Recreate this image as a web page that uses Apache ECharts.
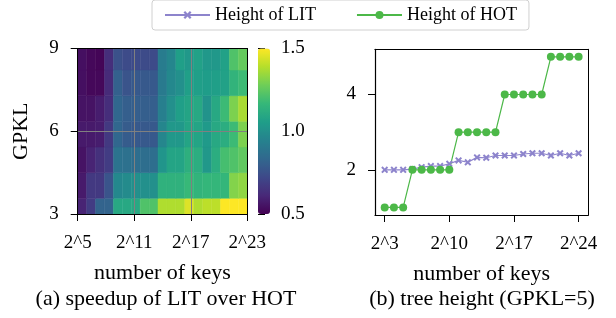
<!DOCTYPE html>
<html>
<head>
<meta charset="utf-8">
<script src="https://cdn.jsdelivr.net/npm/echarts@6/dist/echarts.min.js"></script>
<style>
  html, body { margin: 0; padding: 0; background: #fff; }
  #main { width: 616px; height: 318px; }
</style>
</head>
<body>
<div id="main"></div>
<script>
// (a) heatmap: speedup of LIT over HOT
const keyExp = [5, 6, 7, 8, 9, 10, 11, 12, 13, 14, 15, 16, 17, 18, 19, 20, 21, 22, 23];
const gpkl = [3, 4, 5, 6, 7, 8, 9];
// one row per GPKL (3 .. 9), one value per key exponent (2^5 .. 2^23)
const speedup = [
  [0.60, 0.68, 0.82, 0.82, 1.10, 1.10, 1.10, 1.22, 1.22, 1.38, 1.38, 1.38, 1.45, 1.38, 1.40, 1.40, 1.50, 1.50, 1.50],
  [0.57, 0.67, 0.67, 0.76, 0.97, 0.98, 1.00, 1.00, 1.00, 1.14, 1.14, 1.14, 1.17, 1.15, 1.16, 1.16, 1.16, 1.31, 1.33],
  [0.55, 0.60, 0.64, 0.68, 0.88, 0.87, 0.86, 0.86, 0.86, 1.02, 1.08, 1.08, 1.13, 1.12, 1.03, 1.12, 1.20, 1.22, 1.25],
  [0.57, 0.57, 0.58, 0.67, 0.83, 0.79, 0.78, 0.78, 0.78, 0.96, 1.03, 1.03, 1.08, 1.08, 1.04, 1.10, 1.12, 1.18, 1.30],
  [0.55, 0.55, 0.58, 0.63, 0.83, 0.80, 0.80, 0.80, 0.80, 0.93, 1.00, 1.06, 1.08, 1.10, 1.01, 1.10, 1.18, 1.30, 1.37],
  [0.54, 0.52, 0.52, 0.62, 0.81, 0.76, 0.78, 0.78, 0.78, 0.91, 0.97, 1.00, 1.06, 1.06, 1.05, 1.06, 1.07, 1.15, 1.18],
  [0.54, 0.52, 0.51, 0.63, 0.75, 0.73, 0.73, 0.73, 0.73, 0.92, 0.96, 1.06, 1.03, 1.07, 1.03, 1.03, 1.07, 1.22, 1.26]
];
const cbarTicks = [0.5, 1.0, 1.5];

// (b) tree height at GPKL=5
const heightExp = [3, 4, 5, 6, 7, 8, 9, 10, 11, 12, 13, 14, 15, 16, 17, 18, 19, 20, 21, 22, 23, 24];
const litHeight = [2.0, 2.0, 2.0, 2.02, 2.07, 2.1, 2.1, 2.16, 2.25, 2.2, 2.33, 2.32, 2.38, 2.38, 2.38, 2.42, 2.44, 2.44, 2.38, 2.44, 2.38, 2.44];
const hotHeight = [1, 1, 1, 2, 2, 2, 2, 2, 3, 3, 3, 3, 3, 4, 4, 4, 4, 4, 5, 5, 5, 5];
const lineXTicks = [3, 10, 17, 24];
const lineYTicks = [2, 4];

const FONT = 'Liberation Serif';
const viridis = ['#440154', '#482878', '#3e4989', '#31688e', '#26828e', '#1f9e89', '#35b779', '#6ece58', '#b5de2b', '#fde725'];
const xMin = 5, xMax = 23, yMin = 3, yMax = 9;
// image rows are a bit shorter than one GPKL unit and start below the axis
const rowStep = 0.93, rowBase = 2.64;

const heatData = [];
speedup.forEach((row, j) => {
  row.forEach((v, i) => heatData.push([keyExp[i], gpkl[j], v]));
});

const chart = echarts.init(document.getElementById('main'));

const tickLabel = { fontFamily: FONT, fontSize: 19, color: '#000' };
const nameStyle = { fontFamily: FONT, fontSize: 22, color: '#000' };
const tick = { inside: false, length: 7, lineStyle: { color: '#000', width: 1 } };
const frameAxis = { show: true, axisLine: { lineStyle: { color: '#000', width: 1 } }, axisTick: { show: false }, axisLabel: { show: false }, splitLine: { show: false } };

const option = {
  animation: false,
  legend: {
    data: ['Height of LIT', 'Height of HOT'],
    left: 152,
    top: 0,
    padding: [6, 12],
    itemWidth: 45,
    itemHeight: 10,
    itemGap: 40,
    borderColor: '#d0d0d0',
    borderWidth: 1,
    borderRadius: 3,
    textStyle: { fontFamily: FONT, fontSize: 18, color: '#000' }
  },
  visualMap: {
    type: 'continuous',
    min: 0.5,
    max: 1.5,
    dimension: 2,
    seriesIndex: 0,
    calculable: false,
    left: 258,
    top: 48.5,
    padding: 0,
    itemWidth: 12,
    itemHeight: 165.5,
    text: null,
    inRange: { color: viridis }
  },
  grid: [
    { left: 77.7, top: 48.5, width: 169.6, height: 165.5 },
    { left: 375, top: 49.3, width: 213.3, height: 165.7 },
    { left: 258, top: 48.5, width: 12, height: 165.5 }
  ],
  xAxis: [
    {
      gridIndex: 0, type: 'value', min: xMin, max: xMax, interval: 6, z: 10,
      name: 'number of keys', nameLocation: 'middle', nameGap: 48, nameTextStyle: nameStyle,
      axisLine: { lineStyle: { color: '#000', width: 1 } },
      axisTick: tick,
      axisLabel: Object.assign({ margin: 20, formatter: v => '2^' + v }, tickLabel),
      splitLine: { show: true, lineStyle: { color: '#808080', width: 1 } }
    },
    Object.assign({ gridIndex: 0, type: 'value', min: xMin, max: xMax, position: 'top', z: 10 }, frameAxis),
    {
      gridIndex: 1, type: 'value', min: 1.95, max: 25.05,
      name: 'number of keys', nameLocation: 'middle', nameGap: 48, nameTextStyle: nameStyle,
      axisLine: { lineStyle: { color: '#000', width: 1.2 } },
      axisTick: Object.assign({ customValues: lineXTicks }, tick),
      axisLabel: Object.assign({ margin: 20, customValues: lineXTicks, formatter: v => '2^' + v }, tickLabel),
      splitLine: { show: false }
    },
    Object.assign({ gridIndex: 1, type: 'value', min: 1.95, max: 25.05, position: 'top' }, frameAxis),
    { gridIndex: 2, type: 'value', min: 0, max: 1, show: false }
  ],
  yAxis: [
    {
      gridIndex: 0, type: 'value', min: yMin, max: yMax, interval: 3, z: 10,
      name: 'GPKL', nameLocation: 'middle', nameGap: 45, nameRotate: 90, nameTextStyle: nameStyle,
      axisLine: { lineStyle: { color: '#000', width: 1 } },
      axisTick: tick,
      axisLabel: Object.assign({ margin: 19 }, tickLabel),
      splitLine: { show: true, lineStyle: { color: '#808080', width: 1 } }
    },
    Object.assign({ gridIndex: 0, type: 'value', min: yMin, max: yMax, position: 'right', z: 10 }, frameAxis),
    {
      gridIndex: 1, type: 'value', min: 0.8, max: 5.2,
      axisLine: { lineStyle: { color: '#000', width: 1.2 } },
      axisTick: Object.assign({ customValues: lineYTicks }, tick),
      axisLabel: Object.assign({ margin: 19, customValues: lineYTicks }, tickLabel),
      splitLine: { show: false }
    },
    Object.assign({ gridIndex: 1, type: 'value', min: 0.8, max: 5.2, position: 'right' }, frameAxis),
    {
      gridIndex: 2, type: 'value', min: cbarTicks[0], max: cbarTicks[2], interval: 0.5, position: 'right',
      axisLine: { show: false },
      axisTick: tick,
      axisLabel: Object.assign({ margin: 11, formatter: v => v.toFixed(1) }, tickLabel),
      splitLine: { show: false }
    }
  ],
  graphic: [
    { type: 'text', x: 166, y: 288, style: { text: '(a) speedup of LIT over HOT', textAlign: 'center', font: '22px "Liberation Serif"', fill: '#000' } },
    { type: 'text', x: 482, y: 288, style: { text: '(b) tree height (GPKL=5)', textAlign: 'center', font: '22px "Liberation Serif"', fill: '#000' } }
  ],
  series: [
    {
      type: 'custom',
      xAxisIndex: 0,
      yAxisIndex: 0,
      clip: true,
      data: heatData,
      renderItem: function (params, api) {
        const i = keyExp.indexOf(api.value(0));
        const j = gpkl.indexOf(api.value(1));
        const dx = (xMax - xMin) / keyExp.length;
        const p0 = api.coord([xMin + i * dx, rowBase + j * rowStep]);
        const p1 = api.coord([xMin + (i + 1) * dx, rowBase + (j + 1) * rowStep]);
        const c = api.visual('color');
        return {
          type: 'rect',
          shape: { x: p0[0], y: p1[1], width: p1[0] - p0[0], height: p0[1] - p1[1] },
          style: { fill: c, stroke: c, lineWidth: 0.5 }
        };
      }
    },
    {
      name: 'Height of LIT',
      type: 'line',
      xAxisIndex: 2,
      yAxisIndex: 2,
      data: heightExp.map((x, k) => [x, litHeight[k]]),
      symbol: 'path://M2,0 L5,3 L8,0 L10,2 L7,5 L10,8 L8,10 L5,7 L2,10 L0,8 L3,5 L0,2 Z',
      symbolSize: 7,
      color: '#8d84cc',
      lineStyle: { width: 1.2, color: '#8d84cc' },
      itemStyle: { color: '#8d84cc' }
    },
    {
      name: 'Height of HOT',
      type: 'line',
      xAxisIndex: 2,
      yAxisIndex: 2,
      data: heightExp.map((x, k) => [x, hotHeight[k]]),
      symbol: 'circle',
      symbolSize: 8,
      color: '#4cb848',
      lineStyle: { width: 1.2, color: '#4cb848' },
      itemStyle: { color: '#4cb848' }
    }
  ]
};

chart.setOption(option);
</script>
</body>
</html>
